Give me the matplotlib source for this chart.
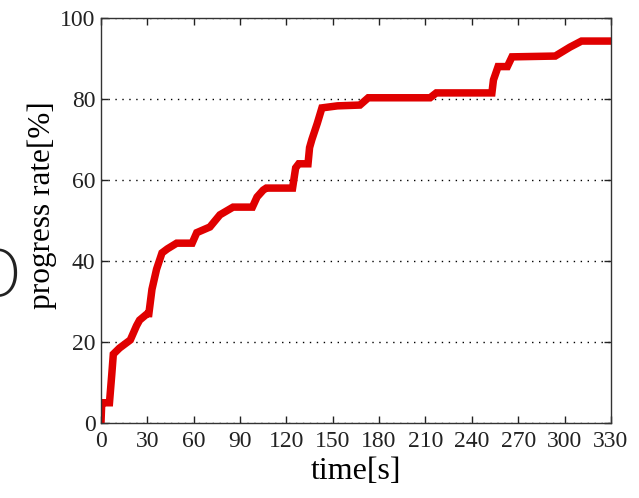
import matplotlib
matplotlib.use("Agg")
import matplotlib.pyplot as plt

# progress curve
time_s = [0, 0.5, 3, 5.5, 7, 8, 12, 19, 23, 25, 30, 31, 33, 36, 39.5, 43, 49, 59,
          62, 70.5, 77, 85.5, 98, 101, 105, 107, 124, 126, 128, 134, 135, 136.5,
          140, 143, 153, 167.6, 173, 213, 217, 253, 254, 257, 263, 266, 294,
          303.5, 311, 330]
progress = [0, 5, 5, 5, 12, 17, 18.5, 20.5, 24, 25.4, 27, 27, 33, 38, 42, 43,
            44.4, 44.4, 47, 48.4, 51.4, 53.3, 53.3, 55.8, 57.5, 58, 58, 63, 64,
            64, 68, 70, 74, 77.8, 78.3, 78.5, 80.3, 80.3, 81.5, 81.5, 84.7, 88,
            88, 90.4, 90.6, 92.8, 94.3, 94.3]
x_ticks = list(range(0, 331, 30))
y_ticks = [0, 20, 40, 60, 80, 100]

plt.rcParams["font.family"] = ["Liberation Serif", "DejaVu Serif"]

fig = plt.figure(figsize=(6.39, 4.98), dpi=100)
ax = fig.add_axes([0.158, 0.1506, 0.798, 0.8133])

ax.plot(time_s, progress, color="#e00000", linewidth=5.4, solid_joinstyle="miter")

ax.set_xlim(0, 330)
ax.set_ylim(0, 100)
ax.set_xticks(x_ticks)
ax.set_yticks(y_ticks)
ax.yaxis.grid(True, linestyle=(0, (1, 4)), color="black", linewidth=1)
ax.tick_params(direction="in", top=True, right=True, length=5, width=1,
               labelsize=17, colors="#222222")
ax.tick_params(axis="x", pad=6)
ax.tick_params(axis="y", pad=4)
for s in ax.spines.values():
    s.set_color("#333333")
    s.set_linewidth(1)

ax.set_xlabel("time[s]", fontsize=23, labelpad=3)
ax.set_ylabel("progress rate[%]", fontsize=22.5)
ax.yaxis.set_label_coords(-0.087, 0.538)

# clipped glyph at the left edge of the original picture
fig.text(0.034, 0.442, "O", fontsize=46, family="DejaVu Sans", fontweight="light",
         ha="right", va="center", color="#222222")

fig.savefig("out.png", dpi=100)
